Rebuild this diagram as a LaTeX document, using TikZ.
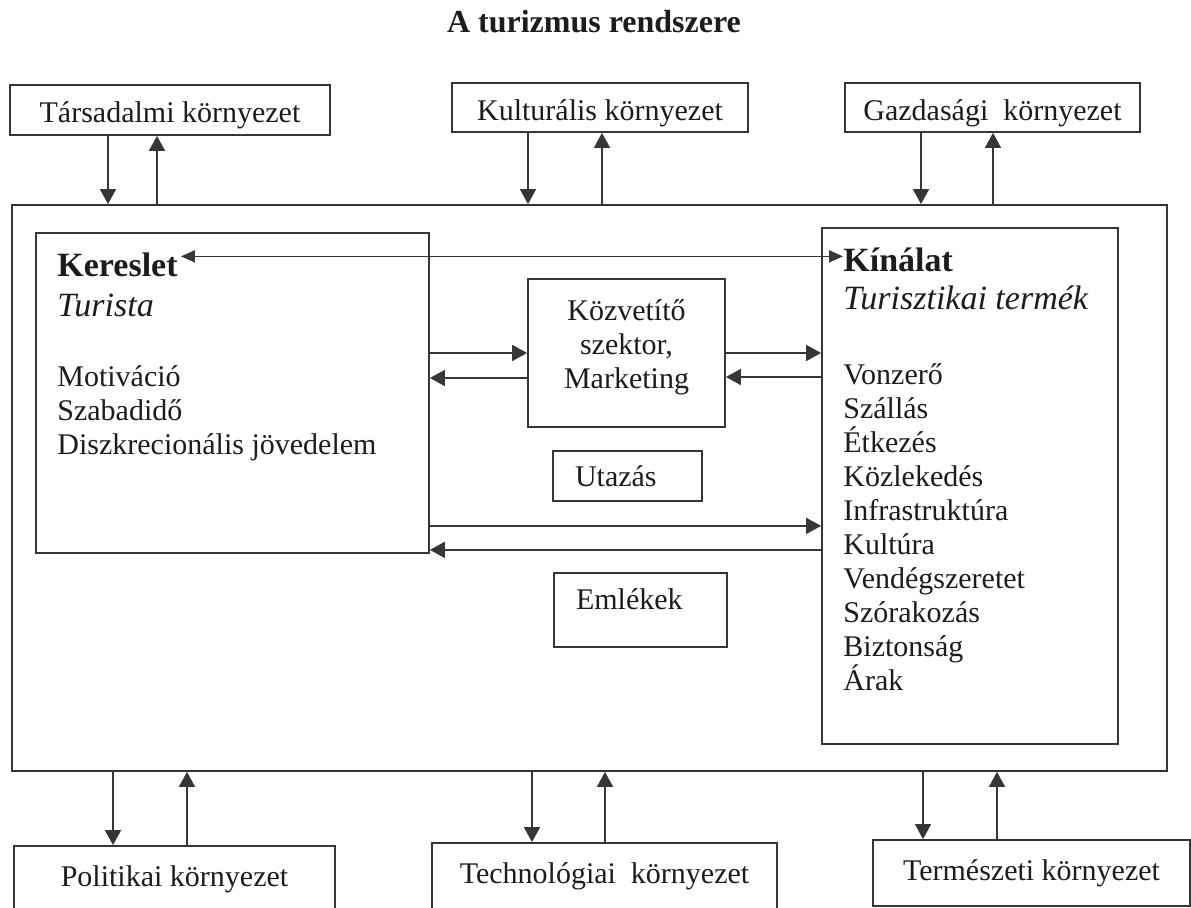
\documentclass[tikz,border=0pt]{standalone}
\usepackage{fontspec}
\setmainfont{Liberation Serif}
\usetikzlibrary{arrows.meta, positioning, calc}
\definecolor{lineGray}{HTML}{363636}
\definecolor{inkDark}{HTML}{1C1C1C}
\tikzset{
  arrowS/.style={-{Triangle[length=7.5pt, width=8pt]}, lineGray, line width=0.85pt},
  arrowB/.style={{Triangle[length=7pt, width=6pt]}-{Triangle[length=7pt, width=6pt]},
                 lineGray, line width=0.85pt},
  envBox/.style={rectangle, draw=lineGray, line width=0.9pt, text=inkDark, inner sep=0pt,
                 font=\fontsize{15}{17}\selectfont},
  envTop/.style={envBox, minimum height=25pt, text height=13pt, text depth=0pt},
  envBot/.style={envBox, minimum height=33pt},
  sysBox/.style={rectangle, draw=lineGray, line width=0.9pt, inner sep=0pt},
  midBox/.style={rectangle, draw=lineGray, line width=0.9pt, text=inkDark, align=center,
                 inner sep=0pt, font=\fontsize{15}{17}\selectfont},
  smallBox/.style={midBox, align=left, inner xsep=11pt},
  headTxt/.style={anchor=base west, inner sep=0pt, text=inkDark, font=\fontsize{17}{20}\selectfont},
  itemTxt/.style={anchor=base west, inner sep=0pt, text=inkDark, font=\fontsize{15}{17}\selectfont},
}
\begin{document}
\begin{tikzpicture}[x=0.5pt, y=-0.5pt]
  \useasboundingbox (0,0) rectangle (1191,908);
  \node[anchor=base, inner sep=0pt, text=inkDark, font=\fontsize{16}{19}\selectfont\bfseries]
    (title) at (594,33) {A turizmus rendszere};

  % environments
  \node[envTop, minimum width=160pt] (tars) at (170,110) {Társadalmi környezet};
  \node[envTop, minimum width=148pt, minimum height=24.5pt] (kult) at (600,107.5) {Kulturális környezet};
  \node[envTop, minimum width=147.5pt, minimum height=24.5pt] (gazd) at (992.5,107.5) {Gazdasági~~környezet};
  \node[envBot, minimum width=160.5pt] (pol) at (174.5,879) {Politikai környezet};
  \node[envBot, minimum width=172.5pt] (tech) at (604.5,876) {Technológiai~~környezet};
  \node[envBot, minimum width=158.5pt] (term) at (1031.5,873) {Természeti környezet};

  % system frame and its parts
  \node[sysBox, minimum width=577.5pt, minimum height=283pt] (sys) at (589.5,488) {};
  \node[sysBox, minimum width=196.5pt, minimum height=160pt] (ker) at (232.5,393) {};
  \node[sysBox, minimum width=148pt, minimum height=258pt] (kin) at (970,486) {};
  \node[midBox, minimum width=98.5pt, minimum height=74pt, text depth=9pt] (kozv) at (626.5,353)
    {Közvetítő\\szektor,\\Marketing};
  \node[smallBox, minimum width=74.5pt, minimum height=25pt, text width=52.5pt] (utaz) at (627.5,476) {Utazás};
  \node[smallBox, minimum width=86.5pt, minimum height=37pt, text width=64.5pt, text depth=11pt]
    (emlek) at (640.5,610) {Emlékek};

  % texts of demand and supply
  \node[headTxt] (kerHead) at (57,277) {\bfseries Kereslet};
  \node[headTxt] (kerSub) at (57,317) {\itshape Turista};
  \foreach \txt [count=\i] in {Motiváció, Szabadidő, Diszkrecionális jövedelem}
    \node[itemTxt] (kerL\i) at (57,353+34*\i) {\txt};
  \node[headTxt] (kinHead) at (843,272) {\bfseries Kínálat};
  \node[headTxt] (kinSub) at (843,310) {\itshape Turisztikai termék};
  \foreach \txt [count=\i] in {Vonzerő, Szállás, Étkezés, Közlekedés, Infrastruktúra,
      Kultúra, Vendégszeretet, Szórakozás, Biztonság, Árak}
    \node[itemTxt] (kinL\i) at (843,351+34*\i) {\txt};

  % arrows to and from the environments
  \foreach \env/\dn/\up in {tars/-62/-13, kult/-72/2, gazd/-71.5/0.5}{
    \path (\env.south) ++(\dn,0) coordinate (pD) (\env.south) ++(\up,0) coordinate (pU);
    \draw[arrowS] (pD) -- (pD |- sys.north);
    \draw[arrowS] (pU |- sys.north) -- (pU);
  }
  \foreach \env/\dn/\up in {pol/-61.5/12.5, tech/-72.5/0.5, term/-108.5/-34.5}{
    \path (\env.north) ++(\dn,0) coordinate (pD) (\env.north) ++(\up,0) coordinate (pU);
    \draw[arrowS] (pD |- sys.south) -- (pD);
    \draw[arrowS] (pU) -- (pU |- sys.south);
  }

  % arrows inside the system
  \path (kerHead.east) ++(3,-9) coordinate (dA);
  \draw[arrowB] (dA) -- (dA -| kinHead.west);
  \draw[arrowS] (ker.east |- kozv.west) -- (kozv.west);
  \coordinate (kzL) at ([yshift=-12.5pt]kozv.west);
  \draw[arrowS] (kzL) -- (kzL -| ker.east);
  \draw[arrowS] (kozv.east) -- (kozv.east -| kin.west);
  \coordinate (kzR) at ([yshift=-12pt]kozv.east);
  \draw[arrowS] (kzR -| kin.west) -- (kzR);
  \coordinate (lwA) at ([yshift=14pt]ker.south east);
  \draw[arrowS] (lwA) -- (lwA -| kin.west);
  \coordinate (lwB) at ([yshift=2pt]ker.south east);
  \draw[arrowS] (lwB -| kin.west) -- (lwB);
\end{tikzpicture}
\end{document}
